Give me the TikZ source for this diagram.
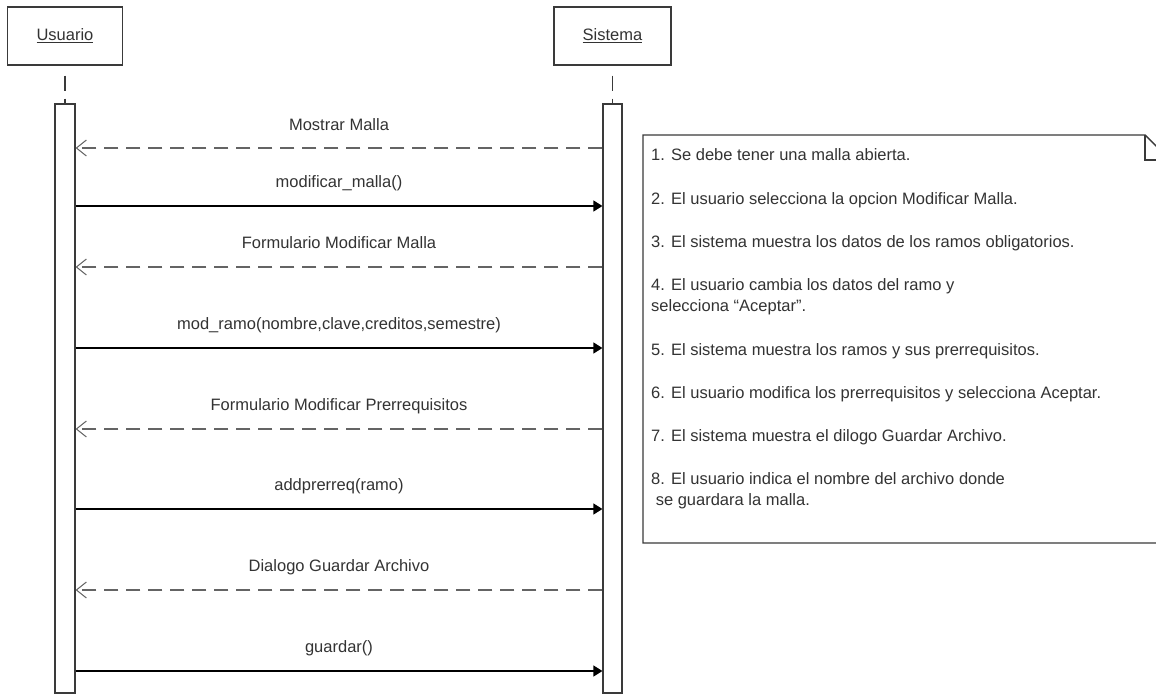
\documentclass[tikz,border=0pt]{standalone}
\usepackage{fontspec}
\setmainfont{Liberation Sans}
\usetikzlibrary{arrows.meta}
\definecolor{txt}{HTML}{333333}
\definecolor{edge}{HTML}{3A3A3A}
\definecolor{dash}{HTML}{646464}
\begin{document}
\begin{tikzpicture}[x=1pt,y=-1pt,
  every node/.style={font=\fontsize{16.5}{20}\selectfont, text=txt, inner sep=0pt},
  actorbox/.style={draw=edge, line width=1.3pt, minimum height=58pt},
  actbar/.style={draw=edge, line width=1.2pt, fill=white, minimum width=20pt, minimum height=589pt},
  lifeline/.style={draw=edge, line width=1.3pt, dash pattern=on 0pt off 10pt on 15pt off 8pt on 7pt},
  reply/.style={draw=dash, line width=1.8pt, dash pattern=on 14pt off 8pt, -{Straight Barb[length=10pt,width=16pt,line width=1pt]}},
  callmsg/.style={draw=black, line width=1.3pt, -{Triangle[length=9pt,width=11pt]}},
  msglabel/.style={anchor=base},
  notetext/.style={anchor=base west},
  notebox/.style={draw=edge, line width=1.4pt, fill=white}
]
\useasboundingbox (0,0) rectangle (1156,696);
\clip (0,0) rectangle (1156,696);

% actors
\node[actorbox, minimum width=115pt] (u) at (65,36) {\underline{Usuario}};
\node[actorbox, minimum width=117pt] (s) at (612.5,36) {\underline{Sistema}};

% activation bars
\node[actbar] (ub) at (65,398.5) {};
\node[actbar, minimum width=19pt] (sb) at (612.5,398.5) {};

% lifelines
\draw[lifeline] (u.south) -- (ub.north);
\draw[lifeline] (s.south) -- (sb.north);

% message rows
\coordinate (y1) at (0,148);
\coordinate (y2) at (0,206);
\coordinate (y3) at (0,267);
\coordinate (y4) at (0,348);
\coordinate (y5) at (0,429);
\coordinate (y6) at (0,509);
\coordinate (y7) at (0,590);
\coordinate (y8) at (0,671);

\draw[reply]   (sb.west |- y1) -- (ub.east |- y1);
\draw[callmsg] (ub.east |- y2) -- (sb.west |- y2);
\draw[reply]   (sb.west |- y3) -- (ub.east |- y3);
\draw[callmsg] (ub.east |- y4) -- (sb.west |- y4);
\draw[reply]   (sb.west |- y5) -- (ub.east |- y5);
\draw[callmsg] (ub.east |- y6) -- (sb.west |- y6);
\draw[reply]   (sb.west |- y7) -- (ub.east |- y7);
\draw[callmsg] (ub.east |- y8) -- (sb.west |- y8);

\node[msglabel] (l1) at (339,130) {Mostrar Malla};
\node[msglabel] (l2) at (339,187) {modificar\_malla()};
\node[msglabel] (l3) at (339,248) {Formulario Modificar Malla};
\node[msglabel] (l4) at (339,329) {mod\_ramo(nombre,clave,creditos,semestre)};
\node[msglabel] (l5) at (339,410) {Formulario Modificar Prerrequisitos};
\node[msglabel] (l6) at (339,490) {addprerreq(ramo)};
\node[msglabel] (l7) at (339,571) {Dialogo Guardar Archivo};
\node[msglabel] (l8) at (339,652) {guardar()};

% note
\draw[notebox] (643,135) -- (1145,135) -- (1170,160) -- (1170,543) -- (643,543) -- cycle;
\draw[draw=edge, line width=1.4pt] (1145,135) -- (1145,160) -- (1170,160);

\node[notetext] (n1)  at (651,160) {1. Se debe tener una malla abierta.};
\node[notetext] (n2)  at (651,204) {2. El usuario selecciona la opcion Modificar Malla.};
\node[notetext] (n3)  at (651,247) {3. El sistema muestra los datos de los ramos obligatorios.};
\node[notetext] (n4a) at (651,290) {4. El usuario cambia los datos del ramo y};
\node[notetext] (n4b) at (651,311) {selecciona “Aceptar”.};
\node[notetext] (n5)  at (651,355) {5. El sistema muestra los ramos y sus prerrequisitos.};
\node[notetext] (n6)  at (651,398) {6. El usuario modifica los prerrequisitos y selecciona Aceptar.};
\node[notetext] (n7)  at (651,441) {7. El sistema muestra el dilogo Guardar Archivo.};
\node[notetext] (n8a) at (651,484) {8. El usuario indica el nombre del archivo donde};
\node[notetext] (n8b) at (651,505) {\ se guardara la malla.};
\end{tikzpicture}
\end{document}
